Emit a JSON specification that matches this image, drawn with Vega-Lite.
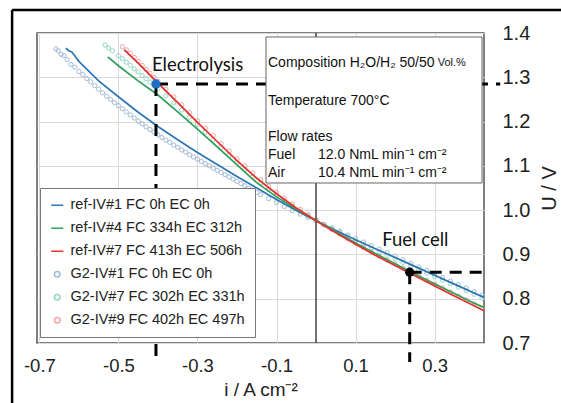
{
"$schema": "https://vega.github.io/schema/vega-lite/v6.json",
"width": 447, "height": 310,
"autosize": "none",
"padding": {"left": 37, "top": 33, "right": 77, "bottom": 60},
"config": {"view": {"stroke": "#555", "strokeWidth": 1.5}, "font": "Liberation Sans", "axis": {"labelFont": "Liberation Sans", "titleFont": "Liberation Sans"}},
"datasets": {
"circles": [
{"s":"G2-IV#1 FC 0h EC 0h","i":-0.658,"u":1.364},{"s":"G2-IV#1 FC 0h EC 0h","i":-0.652,"u":1.36},{"s":"G2-IV#1 FC 0h EC 0h","i":-0.645,"u":1.352},{"s":"G2-IV#1 FC 0h EC 0h","i":-0.638,"u":1.349},{"s":"G2-IV#1 FC 0h EC 0h","i":-0.63,"u":1.34},{"s":"G2-IV#1 FC 0h EC 0h","i":-0.62,"u":1.329},{"s":"G2-IV#1 FC 0h EC 0h","i":-0.61,"u":1.323},{"s":"G2-IV#1 FC 0h EC 0h","i":-0.6,"u":1.313},{"s":"G2-IV#1 FC 0h EC 0h","i":-0.59,"u":1.306},{"s":"G2-IV#1 FC 0h EC 0h","i":-0.58,"u":1.297},{"s":"G2-IV#1 FC 0h EC 0h","i":-0.57,"u":1.29},{"s":"G2-IV#1 FC 0h EC 0h","i":-0.56,"u":1.281},{"s":"G2-IV#1 FC 0h EC 0h","i":-0.55,"u":1.273},{"s":"G2-IV#1 FC 0h EC 0h","i":-0.54,"u":1.265},{"s":"G2-IV#1 FC 0h EC 0h","i":-0.53,"u":1.257},{"s":"G2-IV#1 FC 0h EC 0h","i":-0.52,"u":1.25},{"s":"G2-IV#1 FC 0h EC 0h","i":-0.51,"u":1.243},{"s":"G2-IV#1 FC 0h EC 0h","i":-0.5,"u":1.236},{"s":"G2-IV#1 FC 0h EC 0h","i":-0.49,"u":1.229},{"s":"G2-IV#1 FC 0h EC 0h","i":-0.48,"u":1.222},{"s":"G2-IV#1 FC 0h EC 0h","i":-0.47,"u":1.215},{"s":"G2-IV#1 FC 0h EC 0h","i":-0.46,"u":1.208},{"s":"G2-IV#1 FC 0h EC 0h","i":-0.45,"u":1.201},{"s":"G2-IV#1 FC 0h EC 0h","i":-0.44,"u":1.195},{"s":"G2-IV#1 FC 0h EC 0h","i":-0.43,"u":1.188},{"s":"G2-IV#1 FC 0h EC 0h","i":-0.42,"u":1.182},{"s":"G2-IV#1 FC 0h EC 0h","i":-0.41,"u":1.176},{"s":"G2-IV#1 FC 0h EC 0h","i":-0.4,"u":1.17},{"s":"G2-IV#1 FC 0h EC 0h","i":-0.39,"u":1.164},{"s":"G2-IV#1 FC 0h EC 0h","i":-0.38,"u":1.158},{"s":"G2-IV#1 FC 0h EC 0h","i":-0.37,"u":1.153},{"s":"G2-IV#1 FC 0h EC 0h","i":-0.36,"u":1.147},{"s":"G2-IV#1 FC 0h EC 0h","i":-0.35,"u":1.142},{"s":"G2-IV#1 FC 0h EC 0h","i":-0.34,"u":1.136},{"s":"G2-IV#1 FC 0h EC 0h","i":-0.33,"u":1.131},{"s":"G2-IV#1 FC 0h EC 0h","i":-0.32,"u":1.125},{"s":"G2-IV#1 FC 0h EC 0h","i":-0.31,"u":1.12},{"s":"G2-IV#1 FC 0h EC 0h","i":-0.3,"u":1.115},{"s":"G2-IV#1 FC 0h EC 0h","i":-0.29,"u":1.11},{"s":"G2-IV#1 FC 0h EC 0h","i":-0.28,"u":1.105},{"s":"G2-IV#1 FC 0h EC 0h","i":-0.27,"u":1.1},{"s":"G2-IV#1 FC 0h EC 0h","i":-0.26,"u":1.095},{"s":"G2-IV#1 FC 0h EC 0h","i":-0.25,"u":1.09},{"s":"G2-IV#1 FC 0h EC 0h","i":-0.24,"u":1.085},{"s":"G2-IV#1 FC 0h EC 0h","i":-0.23,"u":1.08},{"s":"G2-IV#1 FC 0h EC 0h","i":-0.22,"u":1.075},{"s":"G2-IV#1 FC 0h EC 0h","i":-0.21,"u":1.07},{"s":"G2-IV#1 FC 0h EC 0h","i":-0.2,"u":1.065},{"s":"G2-IV#1 FC 0h EC 0h","i":-0.19,"u":1.06},{"s":"G2-IV#1 FC 0h EC 0h","i":-0.18,"u":1.055},{"s":"G2-IV#1 FC 0h EC 0h","i":-0.17,"u":1.05},{"s":"G2-IV#1 FC 0h EC 0h","i":-0.16,"u":1.045},{"s":"G2-IV#1 FC 0h EC 0h","i":-0.15,"u":1.04},{"s":"G2-IV#1 FC 0h EC 0h","i":-0.14,"u":1.035},{"s":"G2-IV#1 FC 0h EC 0h","i":-0.12,"u":1.026},{"s":"G2-IV#1 FC 0h EC 0h","i":-0.1,"u":1.017},{"s":"G2-IV#1 FC 0h EC 0h","i":-0.08,"u":1.008},{"s":"G2-IV#1 FC 0h EC 0h","i":-0.06,"u":0.999},{"s":"G2-IV#1 FC 0h EC 0h","i":-0.04,"u":0.991},{"s":"G2-IV#1 FC 0h EC 0h","i":-0.02,"u":0.983},{"s":"G2-IV#1 FC 0h EC 0h","i":0,"u":0.976},{"s":"G2-IV#1 FC 0h EC 0h","i":0.02,"u":0.968},{"s":"G2-IV#1 FC 0h EC 0h","i":0.04,"u":0.96},{"s":"G2-IV#1 FC 0h EC 0h","i":0.06,"u":0.952},{"s":"G2-IV#1 FC 0h EC 0h","i":0.08,"u":0.944},{"s":"G2-IV#1 FC 0h EC 0h","i":0.1,"u":0.936},{"s":"G2-IV#1 FC 0h EC 0h","i":0.12,"u":0.928},{"s":"G2-IV#1 FC 0h EC 0h","i":0.14,"u":0.92},{"s":"G2-IV#1 FC 0h EC 0h","i":0.16,"u":0.912},{"s":"G2-IV#1 FC 0h EC 0h","i":0.18,"u":0.904},{"s":"G2-IV#1 FC 0h EC 0h","i":0.2,"u":0.896},{"s":"G2-IV#1 FC 0h EC 0h","i":0.22,"u":0.888},{"s":"G2-IV#1 FC 0h EC 0h","i":0.24,"u":0.88},{"s":"G2-IV#1 FC 0h EC 0h","i":0.26,"u":0.872},{"s":"G2-IV#1 FC 0h EC 0h","i":0.28,"u":0.864},{"s":"G2-IV#1 FC 0h EC 0h","i":0.3,"u":0.856},{"s":"G2-IV#1 FC 0h EC 0h","i":0.32,"u":0.848},{"s":"G2-IV#1 FC 0h EC 0h","i":0.34,"u":0.84},{"s":"G2-IV#1 FC 0h EC 0h","i":0.36,"u":0.832},{"s":"G2-IV#1 FC 0h EC 0h","i":0.38,"u":0.824},{"s":"G2-IV#1 FC 0h EC 0h","i":0.4,"u":0.816},{"s":"G2-IV#1 FC 0h EC 0h","i":0.42,"u":0.808},
{"s":"G2-IV#7 FC 302h EC 331h","i":-0.534,"u":1.373},{"s":"G2-IV#7 FC 302h EC 331h","i":-0.525,"u":1.366},{"s":"G2-IV#7 FC 302h EC 331h","i":-0.515,"u":1.36},{"s":"G2-IV#7 FC 302h EC 331h","i":-0.5,"u":1.349},{"s":"G2-IV#7 FC 302h EC 331h","i":-0.49,"u":1.342},{"s":"G2-IV#7 FC 302h EC 331h","i":-0.48,"u":1.334},{"s":"G2-IV#7 FC 302h EC 331h","i":-0.47,"u":1.327},{"s":"G2-IV#7 FC 302h EC 331h","i":-0.46,"u":1.319},{"s":"G2-IV#7 FC 302h EC 331h","i":-0.45,"u":1.312},{"s":"G2-IV#7 FC 302h EC 331h","i":-0.44,"u":1.304},{"s":"G2-IV#7 FC 302h EC 331h","i":-0.43,"u":1.297},{"s":"G2-IV#7 FC 302h EC 331h","i":-0.42,"u":1.289},{"s":"G2-IV#7 FC 302h EC 331h","i":-0.41,"u":1.282},{"s":"G2-IV#7 FC 302h EC 331h","i":-0.4,"u":1.274},{"s":"G2-IV#7 FC 302h EC 331h","i":-0.38,"u":1.258},{"s":"G2-IV#7 FC 302h EC 331h","i":-0.36,"u":1.242},{"s":"G2-IV#7 FC 302h EC 331h","i":-0.34,"u":1.226},{"s":"G2-IV#7 FC 302h EC 331h","i":-0.32,"u":1.21},{"s":"G2-IV#7 FC 302h EC 331h","i":-0.3,"u":1.193},{"s":"G2-IV#7 FC 302h EC 331h","i":-0.28,"u":1.176},{"s":"G2-IV#7 FC 302h EC 331h","i":-0.26,"u":1.159},{"s":"G2-IV#7 FC 302h EC 331h","i":-0.24,"u":1.142},{"s":"G2-IV#7 FC 302h EC 331h","i":-0.22,"u":1.125},{"s":"G2-IV#7 FC 302h EC 331h","i":-0.2,"u":1.108},{"s":"G2-IV#7 FC 302h EC 331h","i":-0.18,"u":1.092},{"s":"G2-IV#7 FC 302h EC 331h","i":-0.16,"u":1.076},{"s":"G2-IV#7 FC 302h EC 331h","i":-0.14,"u":1.061},{"s":"G2-IV#7 FC 302h EC 331h","i":-0.12,"u":1.047},{"s":"G2-IV#7 FC 302h EC 331h","i":-0.1,"u":1.034},{"s":"G2-IV#7 FC 302h EC 331h","i":-0.08,"u":1.021},{"s":"G2-IV#7 FC 302h EC 331h","i":-0.06,"u":1.009},{"s":"G2-IV#7 FC 302h EC 331h","i":-0.04,"u":0.998},{"s":"G2-IV#7 FC 302h EC 331h","i":-0.02,"u":0.987},{"s":"G2-IV#7 FC 302h EC 331h","i":0,"u":0.977},{"s":"G2-IV#7 FC 302h EC 331h","i":0.02,"u":0.967},{"s":"G2-IV#7 FC 302h EC 331h","i":0.04,"u":0.958},{"s":"G2-IV#7 FC 302h EC 331h","i":0.06,"u":0.949},{"s":"G2-IV#7 FC 302h EC 331h","i":0.08,"u":0.94},{"s":"G2-IV#7 FC 302h EC 331h","i":0.1,"u":0.931},{"s":"G2-IV#7 FC 302h EC 331h","i":0.12,"u":0.923},{"s":"G2-IV#7 FC 302h EC 331h","i":0.14,"u":0.914},{"s":"G2-IV#7 FC 302h EC 331h","i":0.16,"u":0.906},{"s":"G2-IV#7 FC 302h EC 331h","i":0.18,"u":0.898},{"s":"G2-IV#7 FC 302h EC 331h","i":0.2,"u":0.89},{"s":"G2-IV#7 FC 302h EC 331h","i":0.22,"u":0.882},{"s":"G2-IV#7 FC 302h EC 331h","i":0.24,"u":0.874},{"s":"G2-IV#7 FC 302h EC 331h","i":0.26,"u":0.866},{"s":"G2-IV#7 FC 302h EC 331h","i":0.28,"u":0.858},{"s":"G2-IV#7 FC 302h EC 331h","i":0.3,"u":0.85},{"s":"G2-IV#7 FC 302h EC 331h","i":0.32,"u":0.842},{"s":"G2-IV#7 FC 302h EC 331h","i":0.34,"u":0.834},{"s":"G2-IV#7 FC 302h EC 331h","i":0.36,"u":0.826},{"s":"G2-IV#7 FC 302h EC 331h","i":0.38,"u":0.818},{"s":"G2-IV#7 FC 302h EC 331h","i":0.4,"u":0.81},{"s":"G2-IV#7 FC 302h EC 331h","i":0.42,"u":0.802},
{"s":"G2-IV#9 FC 402h EC 497h","i":-0.49,"u":1.369},{"s":"G2-IV#9 FC 402h EC 497h","i":-0.48,"u":1.362},{"s":"G2-IV#9 FC 402h EC 497h","i":-0.47,"u":1.354},{"s":"G2-IV#9 FC 402h EC 497h","i":-0.46,"u":1.345},{"s":"G2-IV#9 FC 402h EC 497h","i":-0.45,"u":1.336},{"s":"G2-IV#9 FC 402h EC 497h","i":-0.44,"u":1.327},{"s":"G2-IV#9 FC 402h EC 497h","i":-0.43,"u":1.318},{"s":"G2-IV#9 FC 402h EC 497h","i":-0.42,"u":1.309},{"s":"G2-IV#9 FC 402h EC 497h","i":-0.41,"u":1.3},{"s":"G2-IV#9 FC 402h EC 497h","i":-0.4,"u":1.291},{"s":"G2-IV#9 FC 402h EC 497h","i":-0.38,"u":1.273},{"s":"G2-IV#9 FC 402h EC 497h","i":-0.36,"u":1.256},{"s":"G2-IV#9 FC 402h EC 497h","i":-0.34,"u":1.238},{"s":"G2-IV#9 FC 402h EC 497h","i":-0.32,"u":1.22},{"s":"G2-IV#9 FC 402h EC 497h","i":-0.3,"u":1.202},{"s":"G2-IV#9 FC 402h EC 497h","i":-0.28,"u":1.185},{"s":"G2-IV#9 FC 402h EC 497h","i":-0.26,"u":1.168},{"s":"G2-IV#9 FC 402h EC 497h","i":-0.24,"u":1.15},{"s":"G2-IV#9 FC 402h EC 497h","i":-0.22,"u":1.133},{"s":"G2-IV#9 FC 402h EC 497h","i":-0.2,"u":1.116},{"s":"G2-IV#9 FC 402h EC 497h","i":-0.18,"u":1.1},{"s":"G2-IV#9 FC 402h EC 497h","i":-0.16,"u":1.084},{"s":"G2-IV#9 FC 402h EC 497h","i":-0.14,"u":1.069},{"s":"G2-IV#9 FC 402h EC 497h","i":-0.12,"u":1.054},{"s":"G2-IV#9 FC 402h EC 497h","i":-0.1,"u":1.04},{"s":"G2-IV#9 FC 402h EC 497h","i":-0.08,"u":1.027},{"s":"G2-IV#9 FC 402h EC 497h","i":-0.06,"u":1.014},{"s":"G2-IV#9 FC 402h EC 497h","i":-0.04,"u":1.002},{"s":"G2-IV#9 FC 402h EC 497h","i":-0.02,"u":0.99},{"s":"G2-IV#9 FC 402h EC 497h","i":0,"u":0.978},{"s":"G2-IV#9 FC 402h EC 497h","i":0.02,"u":0.967},{"s":"G2-IV#9 FC 402h EC 497h","i":0.04,"u":0.956},{"s":"G2-IV#9 FC 402h EC 497h","i":0.06,"u":0.946},{"s":"G2-IV#9 FC 402h EC 497h","i":0.08,"u":0.936},{"s":"G2-IV#9 FC 402h EC 497h","i":0.1,"u":0.926},{"s":"G2-IV#9 FC 402h EC 497h","i":0.12,"u":0.916},{"s":"G2-IV#9 FC 402h EC 497h","i":0.14,"u":0.906},{"s":"G2-IV#9 FC 402h EC 497h","i":0.16,"u":0.896},{"s":"G2-IV#9 FC 402h EC 497h","i":0.18,"u":0.887},{"s":"G2-IV#9 FC 402h EC 497h","i":0.2,"u":0.878},{"s":"G2-IV#9 FC 402h EC 497h","i":0.22,"u":0.869},{"s":"G2-IV#9 FC 402h EC 497h","i":0.24,"u":0.86},{"s":"G2-IV#9 FC 402h EC 497h","i":0.26,"u":0.851},{"s":"G2-IV#9 FC 402h EC 497h","i":0.28,"u":0.842},{"s":"G2-IV#9 FC 402h EC 497h","i":0.3,"u":0.833},{"s":"G2-IV#9 FC 402h EC 497h","i":0.32,"u":0.824},{"s":"G2-IV#9 FC 402h EC 497h","i":0.34,"u":0.815},{"s":"G2-IV#9 FC 402h EC 497h","i":0.36,"u":0.806},{"s":"G2-IV#9 FC 402h EC 497h","i":0.38,"u":0.797},{"s":"G2-IV#9 FC 402h EC 497h","i":0.4,"u":0.788},{"s":"G2-IV#9 FC 402h EC 497h","i":0.42,"u":0.779}
],
"lines": [
{"s":"ref-IV#1 FC 0h EC 0h","i":-0.633,"u":1.366},{"s":"ref-IV#1 FC 0h EC 0h","i":-0.626,"u":1.36},{"s":"ref-IV#1 FC 0h EC 0h","i":-0.618,"u":1.357},{"s":"ref-IV#1 FC 0h EC 0h","i":-0.61,"u":1.348},{"s":"ref-IV#1 FC 0h EC 0h","i":-0.6,"u":1.336},{"s":"ref-IV#1 FC 0h EC 0h","i":-0.55,"u":1.292},{"s":"ref-IV#1 FC 0h EC 0h","i":-0.5,"u":1.256},{"s":"ref-IV#1 FC 0h EC 0h","i":-0.45,"u":1.221},{"s":"ref-IV#1 FC 0h EC 0h","i":-0.4,"u":1.189},{"s":"ref-IV#1 FC 0h EC 0h","i":-0.35,"u":1.159},{"s":"ref-IV#1 FC 0h EC 0h","i":-0.3,"u":1.13},{"s":"ref-IV#1 FC 0h EC 0h","i":-0.25,"u":1.103},{"s":"ref-IV#1 FC 0h EC 0h","i":-0.2,"u":1.076},{"s":"ref-IV#1 FC 0h EC 0h","i":-0.15,"u":1.05},{"s":"ref-IV#1 FC 0h EC 0h","i":-0.1,"u":1.024},{"s":"ref-IV#1 FC 0h EC 0h","i":-0.05,"u":0.999},{"s":"ref-IV#1 FC 0h EC 0h","i":0,"u":0.976},{"s":"ref-IV#1 FC 0h EC 0h","i":0.05,"u":0.954},{"s":"ref-IV#1 FC 0h EC 0h","i":0.1,"u":0.933},{"s":"ref-IV#1 FC 0h EC 0h","i":0.15,"u":0.913},{"s":"ref-IV#1 FC 0h EC 0h","i":0.2,"u":0.893},{"s":"ref-IV#1 FC 0h EC 0h","i":0.25,"u":0.873},{"s":"ref-IV#1 FC 0h EC 0h","i":0.3,"u":0.853},{"s":"ref-IV#1 FC 0h EC 0h","i":0.35,"u":0.833},{"s":"ref-IV#1 FC 0h EC 0h","i":0.4,"u":0.813},{"s":"ref-IV#1 FC 0h EC 0h","i":0.425,"u":0.803},
{"s":"ref-IV#4 FC 334h EC 312h","i":-0.527,"u":1.346},{"s":"ref-IV#4 FC 334h EC 312h","i":-0.5,"u":1.326},{"s":"ref-IV#4 FC 334h EC 312h","i":-0.45,"u":1.292},{"s":"ref-IV#4 FC 334h EC 312h","i":-0.4,"u":1.26},{"s":"ref-IV#4 FC 334h EC 312h","i":-0.35,"u":1.222},{"s":"ref-IV#4 FC 334h EC 312h","i":-0.3,"u":1.183},{"s":"ref-IV#4 FC 334h EC 312h","i":-0.25,"u":1.143},{"s":"ref-IV#4 FC 334h EC 312h","i":-0.2,"u":1.102},{"s":"ref-IV#4 FC 334h EC 312h","i":-0.15,"u":1.062},{"s":"ref-IV#4 FC 334h EC 312h","i":-0.1,"u":1.03},{"s":"ref-IV#4 FC 334h EC 312h","i":-0.05,"u":1.002},{"s":"ref-IV#4 FC 334h EC 312h","i":0,"u":0.977},{"s":"ref-IV#4 FC 334h EC 312h","i":0.05,"u":0.951},{"s":"ref-IV#4 FC 334h EC 312h","i":0.1,"u":0.926},{"s":"ref-IV#4 FC 334h EC 312h","i":0.15,"u":0.902},{"s":"ref-IV#4 FC 334h EC 312h","i":0.2,"u":0.879},{"s":"ref-IV#4 FC 334h EC 312h","i":0.25,"u":0.856},{"s":"ref-IV#4 FC 334h EC 312h","i":0.3,"u":0.834},{"s":"ref-IV#4 FC 334h EC 312h","i":0.35,"u":0.812},{"s":"ref-IV#4 FC 334h EC 312h","i":0.4,"u":0.79},{"s":"ref-IV#4 FC 334h EC 312h","i":0.425,"u":0.78},
{"s":"ref-IV#7 FC 413h EC 506h","i":-0.485,"u":1.362},{"s":"ref-IV#7 FC 413h EC 506h","i":-0.45,"u":1.332},{"s":"ref-IV#7 FC 413h EC 506h","i":-0.4,"u":1.287},{"s":"ref-IV#7 FC 413h EC 506h","i":-0.35,"u":1.243},{"s":"ref-IV#7 FC 413h EC 506h","i":-0.3,"u":1.198},{"s":"ref-IV#7 FC 413h EC 506h","i":-0.25,"u":1.155},{"s":"ref-IV#7 FC 413h EC 506h","i":-0.2,"u":1.112},{"s":"ref-IV#7 FC 413h EC 506h","i":-0.15,"u":1.072},{"s":"ref-IV#7 FC 413h EC 506h","i":-0.1,"u":1.037},{"s":"ref-IV#7 FC 413h EC 506h","i":-0.05,"u":1.005},{"s":"ref-IV#7 FC 413h EC 506h","i":0,"u":0.976},{"s":"ref-IV#7 FC 413h EC 506h","i":0.05,"u":0.949},{"s":"ref-IV#7 FC 413h EC 506h","i":0.1,"u":0.923},{"s":"ref-IV#7 FC 413h EC 506h","i":0.15,"u":0.898},{"s":"ref-IV#7 FC 413h EC 506h","i":0.2,"u":0.875},{"s":"ref-IV#7 FC 413h EC 506h","i":0.25,"u":0.852},{"s":"ref-IV#7 FC 413h EC 506h","i":0.3,"u":0.829},{"s":"ref-IV#7 FC 413h EC 506h","i":0.35,"u":0.806},{"s":"ref-IV#7 FC 413h EC 506h","i":0.4,"u":0.784},{"s":"ref-IV#7 FC 413h EC 506h","i":0.425,"u":0.773}
],
"guides": [
{"x":-0.405,"x2":-0.405,"y":1.285,"y2":0.657},
{"x":-0.405,"x2":0.466,"y":1.285,"y2":1.285},
{"x":0.237,"x2":0.237,"y":0.86,"y2":0.657},
{"x":0.237,"x2":0.425,"y":0.86,"y2":0.86}
],
"ops": [
{"x":-0.405,"y":1.285,"kind":"Electrolysis"},
{"x":0.237,"y":0.86,"kind":"Fuel cell"}
],
"labels": [
{"x":-0.415,"y":1.3277,"text":"Electrolysis"},
{"x":0.1676,"y":0.9326,"text":"Fuel cell"}
],
"box": [
{"x":-0.1266,"x2":0.42,"y":1.391,"y2":1.0613}
],
"conditions": [
{"x":-0.1215,"y":1.3329,"text":"Composition H₂O/H₂ 50/50"},
{"x":-0.1215,"y":1.2465,"text":"Temperature 700°C"},
{"x":-0.1215,"y":1.1652,"text":"Flow rates"},
{"x":-0.1215,"y":1.1245,"text":"Fuel"},
{"x":0.005,"y":1.1245,"text":"12.0 NmL min⁻¹ cm⁻²"},
{"x":-0.1215,"y":1.0839,"text":"Air"},
{"x":0.005,"y":1.0839,"text":"10.4 NmL min⁻¹ cm⁻²"}
],
"units": [
{"x":0.308,"y":1.3329,"text":"Vol.%"}
]
},
"layer": [
{
"data": {"name": "circles"},
"mark": {"type": "point", "filled": false, "size": 18, "strokeWidth": 1, "opacity": 0.95},
"encoding": {
"x": {"field": "i", "type": "quantitative", "scale": {"domain": [-0.706, 0.425], "nice": false, "zero": false},
"axis": {"disable": false, "values": [-0.7, -0.5, -0.3, -0.1, 0.1, 0.3], "labelExpr": "(datum.value < 0 ? '-' : '') + format(abs(datum.value), '.1f')", "labelFontSize": 18.5, "labelColor": "#222", "labelPadding": 13, "ticks": false, "domain": false, "grid": true, "gridColor": "#d9d9d9", "gridWidth": 1, "labelFlush": false, "labelOverlap": false, "title": "i / A cm⁻²", "titleFontSize": 19, "titleFontWeight": "normal", "titleColor": "#222", "titlePadding": 6}},
"y": {"field": "u", "type": "quantitative", "scale": {"domain": [0.7, 1.4], "nice": false, "zero": false},
"axis": {"disable": false, "orient": "right", "values": [0.7, 0.8, 0.9, 1.0, 1.1, 1.2, 1.3, 1.4], "format": ".1f", "labelFontSize": 20, "labelColor": "#222", "labelPadding": 18, "ticks": false, "domain": false, "grid": true, "gridColor": "#d9d9d9", "gridWidth": 1, "labelFlush": false, "labelOverlap": false, "title": "U / V", "titleFontSize": 20, "titleFontWeight": "normal", "titleColor": "#222", "titleAngle": 270, "titleBaseline": "top", "titlePadding": 10}},
"color": {"field": "s", "type": "nominal",
"scale": {"domain": ["ref-IV#1 FC 0h EC 0h", "ref-IV#4 FC 334h EC 312h", "ref-IV#7 FC 413h EC 506h", "G2-IV#1 FC 0h EC 0h", "G2-IV#7 FC 302h EC 331h", "G2-IV#9 FC 402h EC 497h"], "range": ["#2e75b6", "#2ca05a", "#e5322d", "#9fb9d3", "#8fd6c2", "#eca3a6"]},
"legend": {"title": null, "orient": "none", "legendX": 3, "legendY": 155, "padding": 10, "fillColor": "white", "strokeColor": "#777", "labelFontSize": 14.5, "labelColor": "#222", "labelFont": "Liberation Sans", "rowPadding": 8, "symbolSize": 30, "symbolStrokeWidth": 1.6, "labelLimit": 400, "labelOffset": 6}},
"shape": {"field": "s", "type": "nominal",
"scale": {"domain": ["ref-IV#1 FC 0h EC 0h", "ref-IV#4 FC 334h EC 312h", "ref-IV#7 FC 413h EC 506h", "G2-IV#1 FC 0h EC 0h", "G2-IV#7 FC 302h EC 331h", "G2-IV#9 FC 402h EC 497h"], "range": ["M-2.2,0H2.2", "M-2.2,0H2.2", "M-2.2,0H2.2", "circle", "circle", "circle"]},
"legend": {"title": null, "orient": "none", "legendX": 3, "legendY": 155, "padding": 10, "fillColor": "white", "strokeColor": "#777", "labelFontSize": 14.5, "labelColor": "#222", "labelFont": "Liberation Sans", "rowPadding": 8, "symbolSize": 30, "symbolStrokeWidth": 1.6, "labelLimit": 400, "labelOffset": 6}}
}
},
{
"data": {"values": [{}]},
"mark": {"type": "rule", "color": "#444", "strokeWidth": 1.5},
"encoding": {
"x": {"datum": 0, "type": "quantitative", "scale": {"domain": [-0.706, 0.425], "nice": false, "zero": false}}
}
},
{
"data": {"name": "lines"},
"mark": {"type": "line", "strokeWidth": 1.7},
"encoding": {
"x": {"field": "i", "type": "quantitative", "scale": {"domain": [-0.706, 0.425], "nice": false, "zero": false}},
"y": {"field": "u", "type": "quantitative", "scale": {"domain": [0.7, 1.4], "nice": false, "zero": false}},
"color": {"field": "s", "type": "nominal", "scale": {"domain": ["ref-IV#1 FC 0h EC 0h", "ref-IV#4 FC 334h EC 312h", "ref-IV#7 FC 413h EC 506h", "G2-IV#1 FC 0h EC 0h", "G2-IV#7 FC 302h EC 331h", "G2-IV#9 FC 402h EC 497h"], "range": ["#2e75b6", "#2ca05a", "#e5322d", "#9fb9d3", "#8fd6c2", "#eca3a6"]}, "legend": null}
}
},
{
"data": {"name": "guides"},
"mark": {"type": "rule", "clip": false, "color": "black", "strokeWidth": 3, "strokeDash": [12, 8]},
"encoding": {
"x": {"field": "x", "type": "quantitative", "scale": {"domain": [-0.706, 0.425], "nice": false, "zero": false}},
"x2": {"field": "x2"},
"y": {"field": "y", "type": "quantitative", "scale": {"domain": [0.7, 1.4], "nice": false, "zero": false}},
"y2": {"field": "y2"}
}
},
{
"data": {"name": "ops"},
"mark": {"type": "circle", "size": 85, "opacity": 1},
"encoding": {
"x": {"field": "x", "type": "quantitative", "scale": {"domain": [-0.706, 0.425], "nice": false, "zero": false}},
"y": {"field": "y", "type": "quantitative", "scale": {"domain": [0.7, 1.4], "nice": false, "zero": false}},
"fill": {"field": "kind", "type": "nominal", "scale": {"domain": ["Electrolysis", "Fuel cell"], "range": ["#1f6ec4", "#000000"]}, "legend": null}
}
},
{
"data": {"name": "labels"},
"mark": {"type": "text", "align": "left", "baseline": "middle", "font": "Lato", "fontSize": 18.5, "color": "#111"},
"encoding": {
"x": {"field": "x", "type": "quantitative", "scale": {"domain": [-0.706, 0.425], "nice": false, "zero": false}},
"y": {"field": "y", "type": "quantitative", "scale": {"domain": [0.7, 1.4], "nice": false, "zero": false}},
"text": {"field": "text"}
}
},
{
"data": {"name": "box"},
"mark": {"type": "rect", "fill": "white", "stroke": "#666", "strokeWidth": 1},
"encoding": {
"x": {"field": "x", "type": "quantitative", "scale": {"domain": [-0.706, 0.425], "nice": false, "zero": false}},
"x2": {"field": "x2"},
"y": {"field": "y", "type": "quantitative", "scale": {"domain": [0.7, 1.4], "nice": false, "zero": false}},
"y2": {"field": "y2"}
}
},
{
"data": {"name": "conditions"},
"mark": {"type": "text", "align": "left", "baseline": "middle", "font": "Liberation Sans", "fontSize": 14, "color": "#111"},
"encoding": {
"x": {"field": "x", "type": "quantitative", "scale": {"domain": [-0.706, 0.425], "nice": false, "zero": false}},
"y": {"field": "y", "type": "quantitative", "scale": {"domain": [0.7, 1.4], "nice": false, "zero": false}},
"text": {"field": "text"}
}
},
{
"data": {"name": "units"},
"mark": {"type": "text", "align": "left", "baseline": "middle", "font": "Liberation Sans", "fontSize": 11, "color": "#111"},
"encoding": {
"x": {"field": "x", "type": "quantitative", "scale": {"domain": [-0.706, 0.425], "nice": false, "zero": false}},
"y": {"field": "y", "type": "quantitative", "scale": {"domain": [0.7, 1.4], "nice": false, "zero": false}},
"text": {"field": "text"}
}
},
{
"data": {"values": [{}]},
"mark": {"type": "rule", "clip": false, "color": "black", "strokeWidth": 2.5},
"encoding": {
"x": {"datum": -0.769, "type": "quantitative", "scale": {"domain": [-0.706, 0.425], "nice": false, "zero": false}},
"y": {"datum": 1.452, "type": "quantitative", "scale": {"domain": [0.7, 1.4], "nice": false, "zero": false}},
"y2": {"datum": 0.55}
}
},
{
"data": {"values": [{}]},
"mark": {"type": "rule", "clip": false, "color": "black", "strokeWidth": 2.5},
"encoding": {
"x": {"datum": -0.769, "type": "quantitative", "scale": {"domain": [-0.706, 0.425], "nice": false, "zero": false}},
"x2": {"datum": 0.64},
"y": {"datum": 1.452, "type": "quantitative", "scale": {"domain": [0.7, 1.4], "nice": false, "zero": false}}
}
}
]
}
